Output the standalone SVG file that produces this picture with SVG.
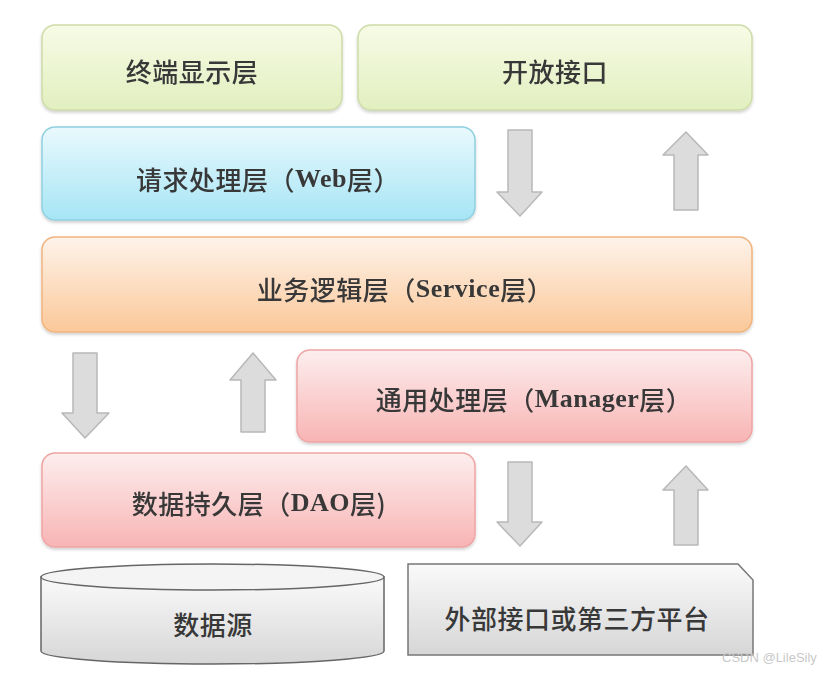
<svg xmlns="http://www.w3.org/2000/svg" width="834" height="674" viewBox="0 0 834 674">
<defs>
<linearGradient id="gGreen" x1="0" y1="0" x2="0" y2="1"><stop offset="0" stop-color="#f7fbe6"/><stop offset="1" stop-color="#e2efbf"/></linearGradient>
<linearGradient id="gBlue" x1="0" y1="0" x2="0" y2="1"><stop offset="0" stop-color="#e9f9fd"/><stop offset="1" stop-color="#a6e5f5"/></linearGradient>
<linearGradient id="gOrange" x1="0" y1="0" x2="0" y2="1"><stop offset="0" stop-color="#fdf3ea"/><stop offset="1" stop-color="#fbc899"/></linearGradient>
<linearGradient id="gPink" x1="0" y1="0" x2="0" y2="1"><stop offset="0" stop-color="#fdeeee"/><stop offset="1" stop-color="#f8b4b4"/></linearGradient>
<linearGradient id="gGray" x1="0" y1="0" x2="0" y2="1"><stop offset="0" stop-color="#fafafa"/><stop offset="1" stop-color="#d6d6d6"/></linearGradient>
<filter id="sh" x="-5%" y="-10%" width="110%" height="125%"><feDropShadow dx="0" dy="2" stdDeviation="1.5" flood-color="#000" flood-opacity="0.18"/></filter>
</defs>
<style>
.t{font-family:"Noto Sans CJK SC","Noto Sans",sans-serif;font-size:26px;font-weight:500;fill:#383838;text-anchor:middle;dominant-baseline:central;letter-spacing:0.5px}
.lat{font-family:"Liberation Serif",serif;font-weight:bold}
.arr{fill:#dcdcdc;stroke:#b8b8b8;stroke-width:1.5;stroke-linejoin:round}
.wm{font-family:"Liberation Sans",sans-serif;font-size:13px;fill:#c8c8c8}
</style>
<rect width="834" height="674" fill="#ffffff"/>

<g id="terminal" filter="url(#sh)">
<rect x="42" y="25" width="300" height="85" rx="13" fill="url(#gGreen)" stroke="#cddca8" stroke-width="1.5"/>
<text class="t" x="192" y="70">终端显示层</text>
</g>
<g id="openapi" filter="url(#sh)">
<rect x="358" y="25" width="394" height="85" rx="13" fill="url(#gGreen)" stroke="#cddca8" stroke-width="1.5"/>
<text class="t" x="555" y="70">开放接口</text>
</g>
<g id="web" filter="url(#sh)">
<rect x="42" y="127" width="433" height="93" rx="13" fill="url(#gBlue)" stroke="#8fcfe0" stroke-width="1.5"/>
<text class="t" x="268" y="178">请求处理层（<tspan class="lat">Web</tspan>层）</text>
</g>
<g id="service" filter="url(#sh)">
<rect x="42" y="237" width="710" height="95" rx="13" fill="url(#gOrange)" stroke="#f1b47e" stroke-width="1.5"/>
<text class="t" x="405" y="288">业务逻辑层（<tspan class="lat">Service</tspan>层）</text>
</g>
<g id="manager" filter="url(#sh)">
<rect x="297" y="350" width="455" height="92" rx="13" fill="url(#gPink)" stroke="#efa4a4" stroke-width="1.5"/>
<text class="t" x="534" y="398">通用处理层（<tspan class="lat">Manager</tspan>层）</text>
</g>
<g id="dao" filter="url(#sh)">
<rect x="42" y="453" width="433" height="94" rx="13" fill="url(#gPink)" stroke="#efa4a4" stroke-width="1.5"/>
<text class="t" x="259" y="502">数据持久层（<tspan class="lat">DAO</tspan>层)</text>
</g>
<g id="datasource">
<path d="M41,577 L41,651 A171.5,13 0 0 0 384,651 L384,577 Z" fill="url(#gGray)" stroke="#666" stroke-width="1.5"/>
<ellipse cx="212.5" cy="577" rx="171.5" ry="13" fill="#f4f4f4" stroke="#666" stroke-width="1.5"/>
<text class="t" x="213" y="623">数据源</text>
</g>
<g id="external">
<path d="M408,564 L738,564 L753,580 L753,655 L408,655 Z" fill="url(#gGray)" stroke="#777" stroke-width="1.5"/>
<text class="t" x="577" y="617">外部接口或第三方平台</text>
</g>

<g id="connectors">
<path class="arr" d="M508,130 L532,130 L532,192 L542,192 L520,216 L497,192 L508,192 Z"/>
<path class="arr" d="M674,210 L698,210 L698,155 L708,155 L686,132 L663,155 L674,155 Z"/>
<path class="arr" d="M73,353 L97,353 L97,413 L109,413 L85,438 L62,413 L73,413 Z"/>
<path class="arr" d="M241,432 L265,432 L265,380 L276,380 L253,353 L230,380 L241,380 Z"/>
<path class="arr" d="M508,462 L532,462 L532,522 L542,522 L520,546 L497,522 L508,522 Z"/>
<path class="arr" d="M674,545 L698,545 L698,490 L708,490 L686,466 L663,490 L674,490 Z"/>
</g>

<text class="wm" x="722" y="662">CSDN @LileSily</text>
</svg>
